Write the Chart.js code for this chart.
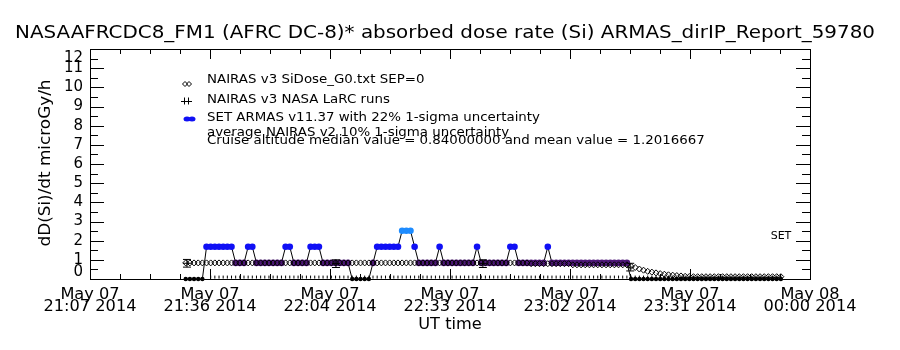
<!DOCTYPE html>
<html>
<head>
<meta charset="utf-8">
<script src="https://cdn.jsdelivr.net/npm/chart.js@4.4.1/dist/chart.umd.min.js"></script>
<style>
  html, body { margin: 0; padding: 0; background: #fff; }
  canvas { display: block; }
</style>
</head>
<body>
<canvas id="c" width="900" height="350"></canvas>
<script>
const titleText = 'NASAAFRCDC8_FM1 (AFRC DC-8)* absorbed dose rate (Si) ARMAS_dirIP_Report_59780';
const yTitle = 'dD(Si)/dt microGy/h';
const xTitle = 'UT time';
const legendLines = [
  'NAIRAS v3 SiDose_G0.txt SEP=0',
  'NAIRAS v3 NASA LaRC runs',
  'SET ARMAS v11.37 with 22% 1-sigma uncertainty'
];
const noteLines = [
  'average NAIRAS v2 10% 1-sigma uncertainty',
  'Cruise altitude median value = 0.84000000 and mean value = 1.2016667'
];
const sideLabel = 'SET';

// x values are minutes after May 07 21:07 UT
const xMin = 0, xMax = 173;
const yMin = 0, yMax = 12;
const xTickLabels = [
  ['May 07', '21:07 2014'],
  ['May 07', '21:36 2014'],
  ['May 07', '22:04 2014'],
  ['May 07', '22:33 2014'],
  ['May 07', '23:02 2014'],
  ['May 07', '23:31 2014'],
  ['May 08', '00:00 2014']
];
const yTickLabels = ['0', '1', '2', '3', '4', '5', '6', '7', '8', '9', '10', '11', '12'];

const minutes = [
   23, 24, 25, 26, 27, 28, 29, 30, 31, 32, 33, 34,
   35, 36, 37, 38, 39, 40, 41, 42, 43, 44, 45, 46,
   47, 48, 49, 50, 51, 52, 53, 54, 55, 56, 57, 58,
   59, 60, 61, 62, 63, 64, 65, 66, 67, 68, 69, 70,
   71, 72, 73, 74, 75, 76, 77, 78, 79, 80, 81, 82,
   83, 84, 85, 86, 87, 88, 89, 90, 91, 92, 93, 94,
   95, 96, 97, 98, 99,100,101,102,103,104,105,106,
  107,108,109,110,111,112,113,114,115,116,117,118,
  119,120,121,122,123,124,125,126,127,128,129,130,
  131,132,133,134,135,136,137,138,139,140,141,142,
  143,144,145,146,147,148,149,150,151,152,153,154,
  155,156,157,158,159,160,161,162,163,164,165,166
];

const armasDose = [
  0, 0, 0, 0, 0, 1.68, 1.68, 1.68, 1.68, 1.68, 1.68, 1.68,
  0.84, 0.84, 0.84, 1.68, 1.68, 0.84, 0.84, 0.84, 0.84, 0.84, 0.84, 0.84,
  1.68, 1.68, 0.84, 0.84, 0.84, 0.84, 1.68, 1.68, 1.68, 0.84, 0.84, 0.84,
  0.84, 0.84, 0.84, 0.84, 0, 0, 0, 0, 0, 0.84, 1.68, 1.68,
  1.68, 1.68, 1.68, 1.68, 2.52, 2.52, 2.52, 1.68, 0.84, 0.84, 0.84, 0.84,
  0.84, 1.68, 0.84, 0.84, 0.84, 0.84, 0.84, 0.84, 0.84, 0.84, 1.68, 0.84,
  0.84, 0.84, 0.84, 0.84, 0.84, 0.84, 1.68, 1.68, 0.84, 0.84, 0.84, 0.84,
  0.84, 0.84, 0.84, 1.68, 0.84, 0.84, 0.84, 0.84, 0.84, 0.84, 0.84, 0.84,
  0.84, 0.84, 0.84, 0.84, 0.84, 0.84, 0.84, 0.84, 0.84, 0.84, 0.84, 0,
  0, 0, 0, 0, 0, 0, 0, 0, 0, 0, 0, 0,
  0, 0, 0, 0, 0, 0, 0, 0, 0, 0, 0, 0,
  0, 0, 0, 0, 0, 0, 0, 0, 0, 0, 0, 0
];

const nairasG0 = [
  0.84, 0.84, 0.84, 0.84, 0.84, 0.84, 0.84, 0.84, 0.84, 0.84, 0.84, 0.84,
  0.84, 0.84, 0.84, 0.84, 0.84, 0.84, 0.84, 0.84, 0.84, 0.84, 0.84, 0.84,
  0.84, 0.84, 0.84, 0.84, 0.84, 0.84, 0.84, 0.84, 0.84, 0.84, 0.84, 0.84,
  0.84, 0.84, 0.84, 0.84, 0.84, 0.84, 0.84, 0.84, 0.84, 0.84, 0.84, 0.84,
  0.84, 0.84, 0.84, 0.84, 0.84, 0.84, 0.84, 0.84, 0.84, 0.84, 0.84, 0.84,
  0.84, 0.84, 0.84, 0.84, 0.84, 0.84, 0.84, 0.84, 0.84, 0.84, 0.84, 0.84,
  0.84, 0.84, 0.84, 0.84, 0.84, 0.84, 0.84, 0.84, 0.84, 0.84, 0.84, 0.80,
  0.80, 0.80, 0.80, 0.80, 0.80, 0.80, 0.80, 0.80, 0.80, 0.74, 0.74, 0.74,
  0.74, 0.74, 0.74, 0.74, 0.74, 0.74, 0.74, 0.74, 0.74, 0.74, 0.74, 0.66,
  0.60, 0.52, 0.46, 0.40, 0.36, 0.32, 0.28, 0.25, 0.22, 0.20, 0.18, 0.16,
  0.14, 0.13, 0.12, 0.12, 0.12, 0.12, 0.12, 0.12, 0.12, 0.12, 0.12, 0.12,
  0.12, 0.12, 0.12, 0.12, 0.12, 0.12, 0.12, 0.12, 0.12, 0.12, 0.12, 0.12
];

const larcLow = [
  null, null, null, null, null, null, 0.1, 0.1, 0.1, 0.1, 0.1, 0.1,
  0.1, 0.1, 0.1, 0.1, 0.1, 0.1, 0.1, 0.1, 0.1, 0.1, 0.1, 0.1,
  0.1, 0.1, 0.1, 0.1, 0.1, 0.1, 0.1, 0.1, 0.1, 0.1, 0.1, 0.1,
  0.1, 0.1, 0.1, 0.1, 0.1, 0.1, 0.1, 0.1, 0.1, 0.1, 0.1, 0.1,
  0.1, 0.1, 0.1, 0.1, 0.1, 0.1, 0.1, 0.1, 0.1, 0.1, 0.1, 0.1,
  0.1, 0.1, 0.1, 0.1, 0.1, 0.1, 0.1, 0.1, 0.1, 0.1, 0.1, 0.1,
  0.1, 0.1, 0.1, 0.1, 0.1, 0.1, 0.1, 0.1, 0.1, 0.1, 0.1, 0.1,
  0.1, 0.1, 0.1, 0.1, 0.1, 0.1, 0.1, 0.1, 0.1, 0.1, 0.1, 0.1,
  0.1, 0.1, 0.1, 0.1, 0.1, 0.1, 0.1, 0.1, 0.1, 0.1, 0.1, 0.1,
  0.1, 0.1, 0.1, 0.1, 0.1, 0.1, 0.1, 0.1, 0.1, 0.1, 0.1, 0.1,
  0.1, 0.1, 0.1, 0.1, 0.1, 0.1, 0.1, 0.1, 0.1, 0.1, 0.1, 0.1,
  0.1, 0.1, 0.1, 0.1, 0.1, 0.1, 0.1, 0.1, 0.1, 0.1, 0.1, 0.1
];

const larcMin = [23.3, 59.1, 94.4, 129.8];
const larcDose = [0.82, 0.80, 0.80, 0.62];
const larcErr = [0.2, 0.2, 0.2, 0.2];

const FONT = '"DejaVu Sans", sans-serif';

function armasColor(v) {
  if (v === 0) return '#000000';
  if (v < 1) return '#4e1878';
  if (v < 2) return '#1010f5';
  return '#1e8cff';
}

function pts(xs, ys) {
  return xs.map((m, i) => ({ x: m, y: ys[i] }));
}

function txt(ctx, s, x, y, size, align, sx) {
  ctx.save();
  ctx.font = size + 'px ' + FONT;
  ctx.textBaseline = 'middle';
  ctx.fillStyle = '#000';
  ctx.translate(x, y);
  ctx.scale(sx || 1, 1);
  ctx.textAlign = align;
  ctx.fillText(s, 0, 0);
  ctx.restore();
}

function widthOf(ctx, s, size) {
  ctx.save();
  ctx.font = size + 'px ' + FONT;
  const w = ctx.measureText(s).width;
  ctx.restore();
  return w;
}

// box with inward ticks, labels and notes in the IDL style
const idlFrame = {
  id: 'idlFrame',
  beforeDatasetsDraw(chart) {
    const { ctx, chartArea: a, scales: { x, y } } = chart;
    ctx.save();
    ctx.strokeStyle = '#000';
    ctx.lineWidth = 1;
    ctx.strokeRect(a.left + 0.5, a.top + 0.5, a.right - a.left, a.bottom - a.top);
    ctx.beginPath();
    for (let v = yMin; v <= yMax; v += 0.5) {
      const py = Math.round(y.getPixelForValue(v)) + 0.5;
      const len = v % 1 === 0 ? 14 : 8;
      ctx.moveTo(a.left, py); ctx.lineTo(a.left + len, py);
      ctx.moveTo(a.right, py); ctx.lineTo(a.right - len, py);
    }
    const step = (xMax - xMin) / 24;
    for (let i = 0; i <= 24; i++) {
      const px = Math.round(x.getPixelForValue(xMin + i * step)) + 0.5;
      const len = i % 4 === 0 ? 10 : 5;
      ctx.moveTo(px, a.bottom); ctx.lineTo(px, a.bottom - len);
      ctx.moveTo(px, a.top); ctx.lineTo(px, a.top + len);
    }
    ctx.stroke();
    ctx.restore();
  },
  afterDraw(chart) {
    const { ctx, chartArea: a, scales: { x, y } } = chart;

    const tw = widthOf(ctx, titleText, 17);
    txt(ctx, titleText, 445, 34, 17, 'center', 860 / tw);

    yTickLabels.forEach((lab, i) => {
      let py = y.getPixelForValue(i);
      if (i === 0) py -= 7;
      if (i === yTickLabels.length - 1) py += 9;
      txt(ctx, lab, a.left - 7, py, 15, 'right');
    });

    const xs = 93 / widthOf(ctx, xTickLabels[0][1], 15);
    xTickLabels.forEach((lab, i) => {
      const px = x.getPixelForValue(xMin + i * (xMax - xMin) / 6);
      txt(ctx, lab[0], px, 295, 15, 'center', xs);
      txt(ctx, lab[1], px, 307, 15, 'center', xs);
    });
    txt(ctx, xTitle, (a.left + a.right) / 2, 325, 15, 'center', xs);

    ctx.save();
    ctx.translate(46, 163);
    ctx.rotate(-Math.PI / 2);
    txt(ctx, yTitle, 0, 0, 15, 'center', 167 / widthOf(ctx, yTitle, 15));
    ctx.restore();

    // legend
    const ls = 333 / widthOf(ctx, legendLines[2], 12);
    const ly = [80, 100, 118];
    legendLines.forEach((s, i) => txt(ctx, s, 207, ly[i], 12, 'left', ls));
    txt(ctx, noteLines[0], 207, 133, 12, 'left', ls);
    txt(ctx, noteLines[1], 207, 141, 12, 'left', ls);

    ctx.save();
    ctx.strokeStyle = '#000';
    ctx.lineWidth = 1;
    [185, 189].forEach(cx => {
      ctx.beginPath();
      ctx.moveTo(cx - 2.5, 84); ctx.lineTo(cx, 81.5); ctx.lineTo(cx + 2.5, 84); ctx.lineTo(cx, 86.5); ctx.closePath();
      ctx.stroke();
    });
    ctx.beginPath();
    [184.5, 188.5].forEach(cx => {
      ctx.moveTo(cx, 97.5); ctx.lineTo(cx, 104.5);
    });
    ctx.moveTo(181, 101.5); ctx.lineTo(192, 101.5);
    ctx.stroke();
    ctx.fillStyle = '#1010f5';
    [187, 192].forEach(cx => {
      ctx.beginPath();
      ctx.ellipse(cx, 119, 3.5, 2.5, 0, 0, Math.PI * 2);
      ctx.fill();
    });
    ctx.restore();

    txt(ctx, sideLabel, 781, 236, 11, 'center');
  }
};

new Chart(document.getElementById('c'), {
  type: 'line',
  data: {
    datasets: [
      {
        label: legendLines[1],
        data: pts(larcMin, larcDose),
        showLine: false,
        pointStyle: 'cross',
        pointRadius: 4,
        pointBorderWidth: 1,
        pointBorderColor: '#000',
        order: 0
      },
      {
        label: 'LaRC upper',
        data: pts(larcMin, larcDose.map((v, i) => v + larcErr[i])),
        showLine: false,
        pointStyle: 'line',
        pointRadius: 4,
        pointBorderWidth: 1,
        pointBorderColor: '#000',
        order: 0
      },
      {
        label: 'LaRC lower',
        data: pts(larcMin, larcDose.map((v, i) => v - larcErr[i])),
        showLine: false,
        pointStyle: 'line',
        pointRadius: 4,
        pointBorderWidth: 1,
        pointBorderColor: '#000',
        order: 0
      },
      {
        label: legendLines[0],
        data: pts(minutes, nairasG0),
        showLine: false,
        pointStyle: 'rectRot',
        pointRadius: 3,
        pointBorderWidth: 1,
        pointBorderColor: '#000',
        pointBackgroundColor: 'rgba(0,0,0,0)',
        order: 1
      },
      {
        label: legendLines[2],
        data: pts(minutes, armasDose),
        borderColor: '#000',
        borderWidth: 1,
        pointRadius: c => (c.raw && c.raw.y === 0 ? 2.2 : 3.3),
        pointBorderWidth: 0,
        pointBackgroundColor: c => armasColor(c.raw ? c.raw.y : 0),
        clip: 6,
        order: 2
      },
      {
        label: 'LaRC low',
        data: pts(minutes, larcLow),
        showLine: false,
        pointStyle: 'line',
        rotation: 90,
        pointRadius: 1.5,
        pointBorderWidth: 1,
        pointBorderColor: '#000',
        order: 3
      }
    ]
  },
  options: {
    responsive: false,
    animation: false,
    devicePixelRatio: 1,
    layout: { padding: { left: 90, right: 90, top: 49, bottom: 71 } },
    elements: { line: { tension: 0 } },
    scales: {
      x: { type: 'linear', min: xMin, max: xMax, display: false },
      y: { min: yMin, max: yMax, display: false }
    },
    plugins: {
      legend: { display: false },
      tooltip: { enabled: false }
    }
  },
  plugins: [idlFrame]
});
</script>
</body>
</html>
